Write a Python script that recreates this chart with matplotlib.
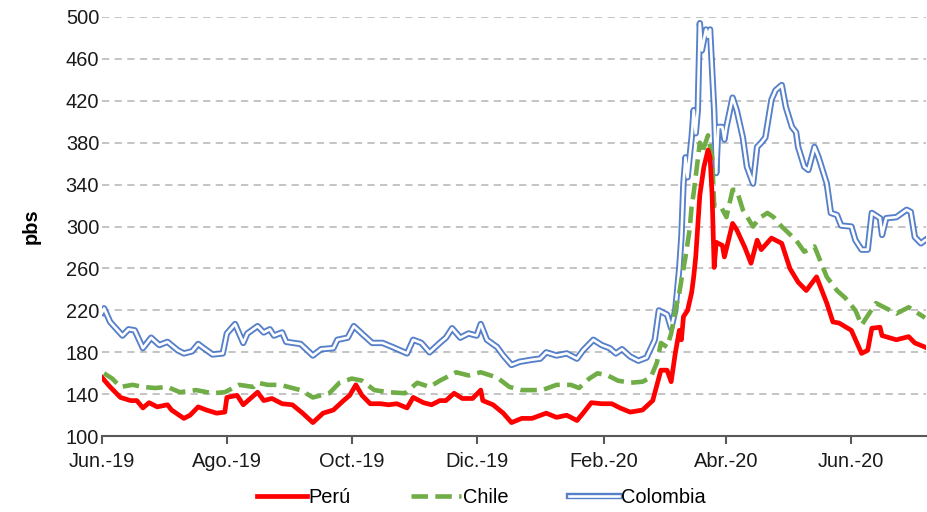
import matplotlib
matplotlib.use("Agg")
import matplotlib.pyplot as plt
from matplotlib.legend_handler import HandlerTuple
import pandas as pd

plt.rcParams['font.family'] = ['Liberation Sans', 'DejaVu Sans']

base_date = "2019-06-01"

# Day offsets from base_date and spreads (pbs)
peru_day = [0, 4, 9, 14, 17, 20, 23, 27, 32, 34, 40, 43, 47, 51, 56, 60, 61, 66, 69, 76, 79, 83, 88, 93,
            98, 103, 108, 113, 118, 121, 124, 127, 131, 136, 140, 144, 149, 152, 157, 161, 165, 168, 172,
            176, 181, 185, 186, 191, 196, 200, 205, 210, 217, 222, 227, 232, 235, 239, 244, 249, 253, 258,
            264, 269, 273, 276, 278, 280, 282, 283, 284, 286, 288, 289, 290, 292, 294, 296, 297, 298, 299,
            300, 303, 304, 308, 310, 314, 317, 320, 322, 327, 332, 336, 340, 344, 349, 354, 357, 360, 366,
            371, 374, 376, 380, 381, 388, 394, 397, 402]
peru_val = [156, 147, 137, 134, 134, 127, 132, 128, 130, 125, 117, 120, 128, 125, 122, 123, 137, 139, 130, 142,
            134, 136, 131, 130, 122, 113, 122, 125, 134, 139, 149, 139, 131, 131, 130, 131, 127, 137, 132,
            130, 134, 134, 141, 136, 136, 144, 134, 130, 122, 113, 117, 117, 122, 118, 120, 115, 122, 132,
            131, 131, 127, 123, 125, 134, 163, 163, 152, 179, 201, 192, 214, 220, 237, 252, 271, 330, 357,
            373, 366, 330, 261, 285, 282, 271, 303, 297, 280, 265, 287, 278, 289, 284, 260, 247, 239, 252,
            227, 209, 208, 201, 179, 182, 203, 204, 196, 192, 195, 189, 185]

chile_day = [1, 5, 9, 15, 20, 26, 32, 38, 46, 54, 60, 67, 74, 76, 81, 87, 97, 103, 111, 116, 122, 127, 133,
             140, 148, 154, 160, 165, 173, 179, 185, 193, 199, 205, 215, 222, 229, 233, 238, 242, 247, 252,
             258, 264, 268, 271, 273, 276, 278, 280, 282, 283, 285, 287, 288, 289, 292, 293, 296, 298, 299,
             302, 305, 308, 310, 313, 318, 321, 325, 328, 332, 339, 343, 348, 354, 359, 363, 368, 371, 375,
             378, 383, 388, 394, 402]
chile_val = [160, 155, 147, 149, 147, 146, 147, 142, 144, 141, 142, 149, 147, 151, 149, 149, 144, 137, 141,
             151, 155, 153, 144, 142, 141, 151, 147, 153, 161, 158, 161, 156, 147, 144, 144, 149, 149, 146,
             155, 160, 158, 153, 151, 152, 156, 170, 189, 185, 198, 220, 237, 249, 271, 297, 319, 332, 380,
             370, 387, 366, 320, 320, 309, 335, 335, 316, 300, 308, 313, 309, 300, 287, 276, 281, 252, 239,
             232, 220, 206, 218, 227, 222, 217, 223, 213]

colombia_day = [0, 1, 4, 10, 13, 16, 20, 24, 28, 32, 37, 40, 44, 47, 49, 54, 59, 61, 65, 69, 71, 76, 79, 82,
                84, 88, 90, 97, 103, 107, 113, 115, 120, 123, 128, 132, 137, 142, 149, 152, 156, 160, 165,
                168, 171, 175, 179, 183, 185, 188, 193, 196, 200, 204, 210, 214, 217, 222, 227, 232, 235,
                240, 244, 248, 251, 254, 258, 262, 266, 270, 272, 276, 278, 280, 282, 283, 284, 285, 286,
                288, 289, 290, 291, 292, 293, 295, 296, 297, 299, 300, 301, 303, 304, 305, 308, 310, 313,
                315, 318, 320, 322, 324, 327, 329, 332, 334, 337, 339, 340, 343, 345, 348, 350, 354, 356,
                359, 361, 366, 368, 371, 374, 376, 380, 381, 383, 388, 393, 395, 397, 400, 402]
colombia_val = [218, 222, 209, 196, 202, 201, 184, 194, 187, 190, 182, 179, 181, 188, 185, 178, 179, 198, 207,
                189, 198, 205, 199, 202, 196, 199, 190, 188, 177, 183, 184, 192, 194, 205, 196, 189, 189,
                185, 179, 192, 189, 180, 189, 194, 203, 194, 198, 196, 207, 192, 185, 177, 168, 171, 173,
                174, 180, 177, 179, 174, 182, 192, 187, 184, 179, 183, 176, 172, 175, 192, 220, 216, 203,
                220, 261, 290, 341, 366, 347, 385, 411, 389, 411, 494, 468, 488, 481, 488, 411, 351, 395,
                395, 383, 395, 423, 411, 385, 357, 341, 376, 380, 385, 421, 430, 435, 414, 395, 390, 376,
                357, 354, 376, 366, 341, 313, 311, 301, 300, 287, 278, 278, 313, 308, 292, 308, 309, 316,
                314, 290, 284, 287]

y_ticks = [100, 140, 180, 220, 260, 300, 340, 380, 420, 460, 500]
x_tick_dates = ["2019-06-01", "2019-08-01", "2019-10-01", "2019-12-01", "2020-02-01", "2020-04-01", "2020-06-01"]
x_tick_labels = ["Jun.-19", "Ago.-19", "Oct.-19", "Dic.-19", "Feb.-20", "Abr.-20", "Jun.-20"]


def to_dates(days):
    return pd.Timestamp(base_date) + pd.to_timedelta(days, unit="D")


fig = plt.figure(figsize=(9.27, 5.12), dpi=100)
ax = fig.add_axes([0.110, 0.148, 0.889, 0.819])

blue = "#4472C4"
red = "#FF0000"
green = "#70AD47"

col_outer, = ax.plot(to_dates(colombia_day), colombia_val, color=blue, lw=4.6, alpha=0.9,
                     solid_joinstyle="round", zorder=3)
col_inner, = ax.plot(to_dates(colombia_day), colombia_val, color="white", lw=1.9,
                     solid_joinstyle="round", zorder=3.1)
chile_line, = ax.plot(to_dates(chile_day), chile_val, color=green, lw=3.3, dashes=(3.6, 1.6), zorder=4)
peru_line, = ax.plot(to_dates(peru_day), peru_val, color=red, lw=3.4, solid_joinstyle="round", zorder=5)

ax.set_ylim(100, 500)
ax.set_yticks(y_ticks)
ax.set_xlim(pd.Timestamp(base_date), pd.Timestamp(base_date) + pd.Timedelta(days=402.5))
ax.set_xticks([pd.Timestamp(d) for d in x_tick_dates])
ax.set_xticklabels(x_tick_labels)

ax.yaxis.grid(True, color="#BFBFBF", lw=1.3, dashes=(4, 3))
ax.set_axisbelow(True)
for s in ["left", "right", "top"]:
    ax.spines[s].set_visible(False)
ax.spines["bottom"].set_color("#595959")
ax.spines["bottom"].set_linewidth(1.5)
ax.tick_params(axis="y", length=0, labelsize=14.4, pad=2, labelcolor="#1a1a1a")
ax.tick_params(axis="x", length=6, width=1.5, color="#595959", labelsize=14.4, pad=5, labelcolor="#1a1a1a")
ax.set_ylabel("pbs", fontsize=14.4, fontweight="bold", labelpad=18)

leg = fig.legend([peru_line, chile_line, (col_outer, col_inner)], ["Perú", "Chile", "Colombia"],
                 handler_map={tuple: HandlerTuple(ndivide=1)},
                 loc="center", bbox_to_anchor=(0.519, 0.029), ncol=3, frameon=False, fontsize=14.4,
                 handlelength=2.5, handletextpad=0.1, columnspacing=3.0)

fig.savefig("out.png", dpi=100)
